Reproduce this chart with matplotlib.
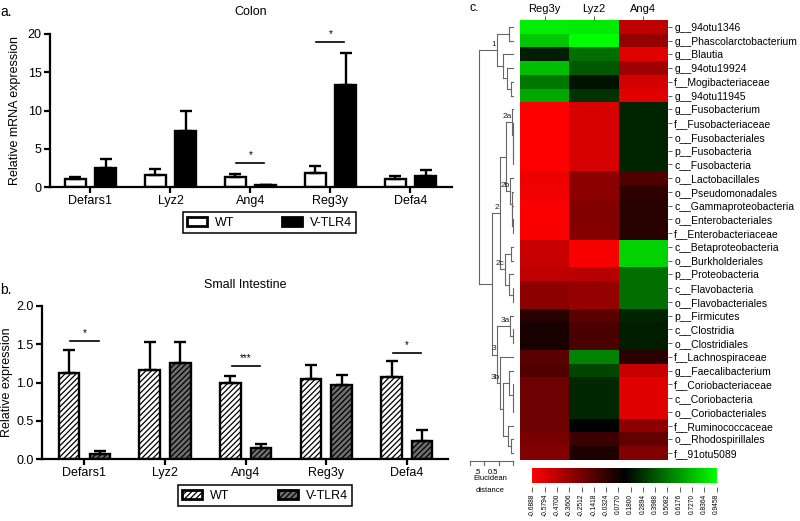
import numpy as np
import matplotlib
matplotlib.use('Agg')
import matplotlib.pyplot as plt
from matplotlib.colors import LinearSegmentedColormap
from matplotlib.patches import Patch

plt.rcParams['font.family'] = ['Liberation Sans', 'DejaVu Sans']
plt.rcParams['hatch.linewidth'] = 0.9

W, H = 800, 521
fig = plt.figure(figsize=(W / 100, H / 100), dpi=100)


def box(x0, y0, x1, y1):
    return [x0 / W, 1 - y1 / H, (x1 - x0) / W, (y1 - y0) / H]


# ---------------- data ----------------
genes = ['Defars1', 'Lyz2', 'Ang4', 'Reg3y', 'Defa4']
groups = ['WT', 'V-TLR4']

colon_wt = [1.05, 1.55, 1.3, 1.8, 1.1]
colon_wt_err = [0.25, 0.75, 0.4, 1.0, 0.35]
colon_tlr4 = [2.5, 7.3, 0.2, 13.3, 1.5]
colon_tlr4_err = [1.1, 2.7, 0.06, 4.2, 0.7]
colon_sig_gene = [2, 3]
colon_sig_y = [3.1, 19.0]
colon_sig_txt = ['*', '*']

si_wt = [1.12, 1.16, 1.0, 1.05, 1.07]
si_wt_err = [0.31, 0.37, 0.09, 0.18, 0.21]
si_tlr4 = [0.07, 1.25, 0.15, 0.97, 0.24]
si_tlr4_err = [0.04, 0.28, 0.05, 0.13, 0.14]
si_sig_gene = [0, 2, 4]
si_sig_y = [1.54, 1.22, 1.38]
si_sig_txt = ['*', '***', '*']

hm_cols = ['Reg3y', 'Lyz2', 'Ang4']
hm_rows = ['g__94otu1346', 'g__Phascolarctobacterium', 'g__Blautia', 'g__94otu19924',
           'f__Mogibacteriaceae', 'g__94otu11945', 'g__Fusobacterium', 'f__Fusobacteriaceae',
           'o__Fusobacteriales', 'p__Fusobacteria', 'c__Fusobacteria', 'o__Lactobacillales',
           'o__Pseudomonadales', 'c__Gammaproteobacteria', 'o__Enterobacteriales',
           'f__Enterobacteriaceae', 'c__Betaproteobacteria', 'o__Burkholderiales',
           'p__Proteobacteria', 'c__Flavobacteria', 'o__Flavobacteriales', 'p__Firmicutes',
           'c__Clostridia', 'o__Clostridiales', 'f__Lachnospiraceae', 'g__Faecalibacterium',
           'f__Coriobacteriaceae', 'c__Coriobacteria', 'o__Coriobacteriales',
           'f__Ruminococcaceae', 'o__Rhodospirillales', 'f__91otu5089']
hm_reg3y = [0.89, 0.77, 0.23, 0.74, 0.51, 0.67, -0.69, -0.69, -0.69, -0.69, -0.69,
            -0.63, -0.64, -0.67, -0.67, -0.67, -0.51, -0.51, -0.48, -0.32, -0.32,
            0.00, 0.05, 0.05, -0.16, -0.13, -0.22, -0.22, -0.22, -0.22, -0.26, -0.29]
hm_lyz2 = [0.88, 0.94, 0.48, 0.415, 0.19, 0.29, -0.56, -0.56, -0.56, -0.56, -0.56,
           -0.32, -0.32, -0.29, -0.29, -0.29, -0.66, -0.66, -0.46, -0.35, -0.35,
           -0.16, -0.11, -0.11, 0.545, 0.35, 0.25, 0.25, 0.25, 0.13, -0.06, 0.03]
hm_ang4 = [-0.48, -0.35, -0.59, -0.38, -0.545, -0.59, 0.24, 0.24, 0.24, 0.24, 0.24,
           -0.13, -0.02, 0.0, 0.0, 0.0, 0.80, 0.80, 0.48, 0.48, 0.48,
           0.24, 0.22, 0.22, 0.0, -0.51, -0.59, -0.59, -0.59, -0.32, -0.19, -0.29]
cb_min, cb_max = -0.6888, 0.9458
cb_labels = ['-0.6888', '-0.5794', '-0.4700', '-0.3606', '-0.2512', '-0.1418', '-0.0324',
             '0.0770', '0.1800', '0.2894', '0.3988', '0.5082', '0.6176', '0.7270',
             '0.8364', '0.9458']

# dendrogram: (height, left, right[, label]); leaves are row indices
dendro = (1.19,
          (0.56, (0.14, 0, 1), (0.35, 2, (0.21, 3, (0.07, 4, 5))), '1'),
          (0.73,
           (0.45,
            (0.245,
             (0.02, 6, (0.015, 7, (0.01, 8, (0.005, 9, 10))), '2a'),
             (0.10, 11, (0.05, 12, (0.02, 13, (0.01, 14, 15))), '2b')),
            (0.28, (0.07, 16, 17), (0.14, 18, (0.01, 19, 20)), '2c'), '2'),
           (0.56,
            (0.10, 21, (0.01, 22, 23), '3a'),
            (0.45, 24,
             (0.35, (0.14, 25, (0.01, 26, (0.005, 27, 28))), (0.17, 29, (0.07, 30, 31))),
             '3b'), '3')))

# ---------------- bar panels ----------------
def bar_panel(rect, xlim, wt, wt_err, tl, tl_err, ylim, yticks, yfmt, ylabel, title,
              sig_g, sig_y, sig_t, hatched, bw, off, lab_x, title_pad):
    ax = fig.add_axes(rect)
    x = np.arange(len(genes))
    ekw = dict(ecolor='black', elinewidth=1.7, capsize=4.5, capthick=1.7)
    if hatched:
        kw1 = dict(facecolor='white', edgecolor='black', hatch='//////')
        kw2 = dict(facecolor='#6e6e6e', edgecolor='black', hatch='//////')
    else:
        kw1 = dict(facecolor='white', edgecolor='black')
        kw2 = dict(facecolor='black', edgecolor='black')
    ax.bar(x - off, wt, bw, lw=1.7, yerr=[np.zeros(len(wt)), wt_err], error_kw=ekw, **kw1)
    ax.bar(x + off, tl, bw, lw=1.7, yerr=[np.zeros(len(tl)), tl_err], error_kw=ekw, **kw2)
    for g, yy, t in zip(sig_g, sig_y, sig_t):
        ax.plot([g - 0.175, g + 0.175], [yy, yy], color='black', lw=1.2, clip_on=False)
        ax.text(g, yy + (ylim[1] - ylim[0]) * 0.02, t, ha='center', va='bottom', fontsize=7)
    ax.set_xlim(*xlim)
    ax.set_ylim(*ylim)
    ax.set_yticks(yticks)
    ax.set_yticklabels([yfmt.format(v) for v in yticks])
    ax.set_xticks(x)
    ax.set_xticklabels(genes)
    for s in ['top', 'right']:
        ax.spines[s].set_visible(False)
    for s in ['left', 'bottom']:
        ax.spines[s].set_linewidth(1.6)
    ax.tick_params(width=1.6, length=4, labelsize=9, pad=2)
    ax.set_ylabel(ylabel, fontsize=9)
    ax.yaxis.set_label_coords(lab_x, 0.5)
    ax.set_title(title, fontsize=9, pad=title_pad)
    return ax, kw1, kw2


axa, ka1, ka2 = bar_panel(box(50, 34, 452, 187), (-0.506, 4.52), colon_wt, colon_wt_err,
                          colon_tlr4, colon_tlr4_err, (0, 20), [0, 5, 10, 15, 20], '{:g}',
                          'Relative mRNA expression', 'Colon', colon_sig_gene, colon_sig_y,
                          colon_sig_txt, False, 0.26, 0.19, (21 - 50) / 402, 14)
axb, kb1, kb2 = bar_panel(box(42, 306, 448, 459), (-0.527, 4.51), si_wt, si_wt_err,
                          si_tlr4, si_tlr4_err, (0, 2.0), [0.0, 0.5, 1.0, 1.5, 2.0], '{:.1f}',
                          'Relative expression', 'Small Intestine', si_sig_gene, si_sig_y,
                          si_sig_txt, True, 0.255, 0.19, (13 - 42) / 406, 13)


def legend(x0, y0, x1, y1, k1, k2):
    hs = [Patch(linewidth=2, **k1), Patch(linewidth=2, **k2)]
    lg = fig.legend(hs, groups, loc='lower left', ncol=2, mode='expand',
                    bbox_to_anchor=(x0 / W, 1 - y1 / H, (x1 - x0) / W, (y1 - y0) / H),
                    borderaxespad=0, fontsize=9, fancybox=False, framealpha=1,
                    edgecolor='black', handlelength=1.6, handleheight=0.7,
                    borderpad=0.35, handletextpad=0.6)
    lg.get_frame().set_linewidth(1.1)


legend(183, 212, 356, 233, ka1, ka2)
legend(178, 483, 352, 506, kb1, kb2)

fig.text(0 / W, 1 - 12 / H, 'a.', fontsize=10, va='center', ha='left')
fig.text(0 / W, 1 - 290 / H, 'b.', fontsize=10, va='center', ha='left')
fig.text(470 / W, 1 - 8 / H, 'c.', fontsize=9, va='center', ha='left')

# ---------------- heatmap ----------------
cmap = LinearSegmentedColormap.from_list('rg', [(1, 0, 0), (0, 0, 0), (0, 1, 0)])
mat = np.array([hm_reg3y, hm_lyz2, hm_ang4]).T
axh = fig.add_axes(box(520, 20, 668, 460))
axh.imshow(mat, cmap=cmap, vmin=cb_min, vmax=cb_max, aspect='auto', interpolation='nearest')
axh.yaxis.tick_right()
axh.set_yticks(np.arange(len(hm_rows)))
axh.set_yticklabels(hm_rows, fontsize=7.5)
axh.xaxis.tick_top()
axh.set_xticks(np.arange(len(hm_cols)))
axh.set_xticklabels(hm_cols, fontsize=8)
axh.tick_params(length=3, width=0.6, pad=1.5, color='#444444')
for s in axh.spines.values():
    s.set_visible(False)

# ---------------- dendrogram ----------------
px_per_unit = 28.6
axd = fig.add_axes(box(470, 20, 520, 460))
axd.set_xlim((513 - 470) / px_per_unit, (513 - 520) / px_per_unit)
axd.set_ylim(len(hm_rows), 0)
axd.axis('off')
lc = '#666666'


def draw(node):
    if isinstance(node, int):
        return node + 0.5, 0.0
    h, left, right = node[0], node[1], node[2]
    yl, hl = draw(left)
    yr, hr = draw(right)
    axd.plot([h, h], [yl, yr], color=lc, lw=0.8, clip_on=False)
    axd.plot([h, hl], [yl, yl], color=lc, lw=0.8, clip_on=False)
    axd.plot([h, hr], [yr, yr], color=lc, lw=0.8, clip_on=False)
    yc = (yl + yr) / 2
    if len(node) > 3:
        axd.text(h + 0.02, yc - 0.15, node[3], fontsize=6, ha='right', va='bottom', color='#222222')
    return yc, h


draw(dendro)

# distance scale bar
sc_ticks = [0, 0.5, 1.0, 1.5]
yb = len(hm_rows) + 0.1
axd.plot([sc_ticks[0], sc_ticks[-1]], [yb, yb], color=lc, lw=0.8, clip_on=False)
for t in sc_ticks:
    axd.plot([t, t], [yb, yb + 0.25], color=lc, lw=0.8, clip_on=False)
fig.text(477 / W, 1 - 472 / H, '.5', fontsize=5.5, ha='center', va='center')
fig.text(493 / W, 1 - 472 / H, '0.5', fontsize=5.5, ha='center', va='center')
fig.text(490 / W, 1 - 479 / H, 'Elucidean', fontsize=5.5, ha='center', va='center')
fig.text(490 / W, 1 - 490 / H, 'distance', fontsize=5.5, ha='center', va='center')

# ---------------- colour bar ----------------
axc = fig.add_axes(box(532, 468, 717, 487))
grad = np.linspace(cb_min, cb_max, 256)[None, :]
axc.imshow(grad, cmap=cmap, vmin=cb_min, vmax=cb_max, aspect='auto',
           extent=(cb_min, cb_max, 0, 1), interpolation='bilinear')
axc.set_xlim(cb_min - 0.004, cb_max + 0.004)
axc.set_ylim(-0.27, 1)
for s in axc.spines.values():
    s.set_visible(False)
axc.set_yticks([])
axc.set_xticks(np.linspace(cb_min, cb_max, len(cb_labels)))
axc.set_xticklabels(cb_labels, rotation=90, fontsize=4.8)
axc.tick_params(axis='x', length=3.5, width=0.6, pad=1.5, color='#444444')

fig.savefig('out.png', dpi=100)
